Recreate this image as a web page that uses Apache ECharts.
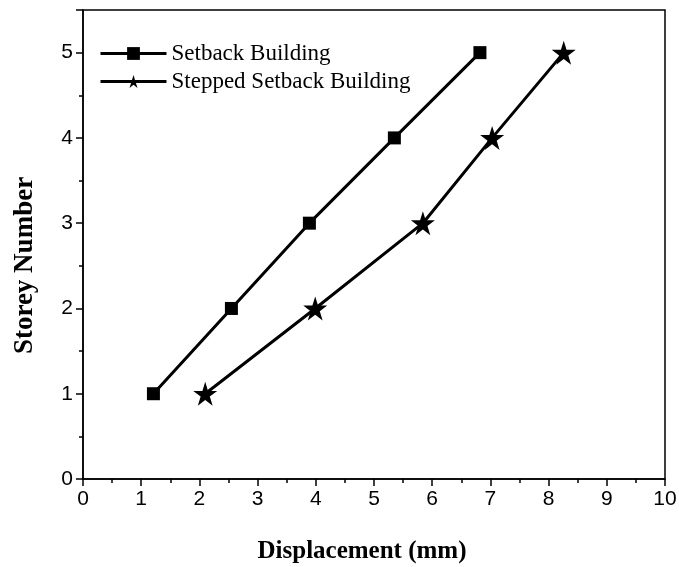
<!DOCTYPE html>
<html>
<head>
<meta charset="utf-8">
<script src="https://cdn.jsdelivr.net/npm/echarts@6/dist/echarts.min.js"></script>
<style>
    html, body { margin: 0; padding: 0; background: #fff; }
    #chart { width: 679px; height: 567px; }
</style>
</head>
<body>
<div id="chart"></div>
<script>
    var storeys = [1, 2, 3, 4, 5];
    var setbackDisp = [1.21, 2.55, 3.89, 5.35, 6.82];
    var steppedDisp = [2.10, 3.99, 5.84, 7.03, 8.26];
    var seriesNames = ['Setback Building', 'Stepped Setback Building'];

    var starPath = 'path://M50,0 L61.2,34.5 L97.6,34.5 L68.2,55.9 L79.4,90.5 L50,69.1 L20.6,90.5 L31.8,55.9 L2.4,34.5 L38.8,34.5 Z';

    function pairs(xs, ys) {
        var out = [];
        for (var i = 0; i < xs.length; i++) out.push([xs[i], ys[i]]);
        return out;
    }

    var mychart = echarts.init(document.getElementById('chart'));
    var option = {
        animation: false,
        grid: {
            left: 83, right: 14, top: 10, bottom: 88,
            outerBoundsMode: 'none',
            show: true, borderColor: '#000', borderWidth: 1.5
        },
        legend: {
            left: 94, top: 37, orient: 'vertical',
            itemWidth: 66, itemHeight: 16, itemGap: 5,
            lineStyle: { width: 3 },
            textStyle: { fontFamily: 'Liberation Serif', fontSize: 23, color: '#000' },
            data: seriesNames
        },
        xAxis: {
            type: 'value', min: 0, max: 10, interval: 1,
            name: 'Displacement (mm)', nameLocation: 'middle', nameGap: 60,
            nameTextStyle: { fontFamily: 'Liberation Serif', fontWeight: 'bold', fontSize: 25, color: '#000', padding: [0, 24, 0, 0] },
            axisLine: { onZero: false, lineStyle: { color: '#000', width: 1.5 } },
            axisTick: { length: 7, lineStyle: { color: '#000', width: 1.5 } },
            minorTick: { show: true, splitNumber: 2, length: 4, lineStyle: { color: '#000', width: 1.5 } },
            axisLabel: { fontFamily: 'Liberation Sans', fontSize: 21, color: '#000', margin: 10 },
            splitLine: { show: false }
        },
        yAxis: {
            type: 'value', min: 0, max: 5.5, interval: 1,
            name: 'Storey Number', nameLocation: 'middle', nameGap: 44,
            nameTextStyle: { fontFamily: 'Liberation Serif', fontWeight: 'bold', fontSize: 27, color: '#000', padding: [0, 42, 0, 0] },
            axisLine: { onZero: false, lineStyle: { color: '#000', width: 1.5 } },
            axisTick: { length: 7, lineStyle: { color: '#000', width: 1.5 } },
            minorTick: { show: true, splitNumber: 2, length: 4, lineStyle: { color: '#000', width: 1.5 } },
            axisLabel: {
                fontFamily: 'Liberation Sans', fontSize: 21, color: '#000', margin: 10,
                formatter: function (v) { return v > 5 ? '' : v; }
            },
            splitLine: { show: false }
        },
        series: [{
            name: seriesNames[0],
            type: 'line',
            data: pairs(setbackDisp, storeys),
            symbol: 'rect', symbolSize: 13,
            lineStyle: { color: '#000', width: 3 },
            itemStyle: { color: '#000' }
        }, {
            name: seriesNames[1],
            type: 'line',
            data: pairs(steppedDisp, storeys),
            symbol: starPath, symbolSize: 24,
            lineStyle: { color: '#000', width: 3 },
            itemStyle: { color: '#000' }
        }]
    };
    mychart.setOption(option);
</script>
</body>
</html>
